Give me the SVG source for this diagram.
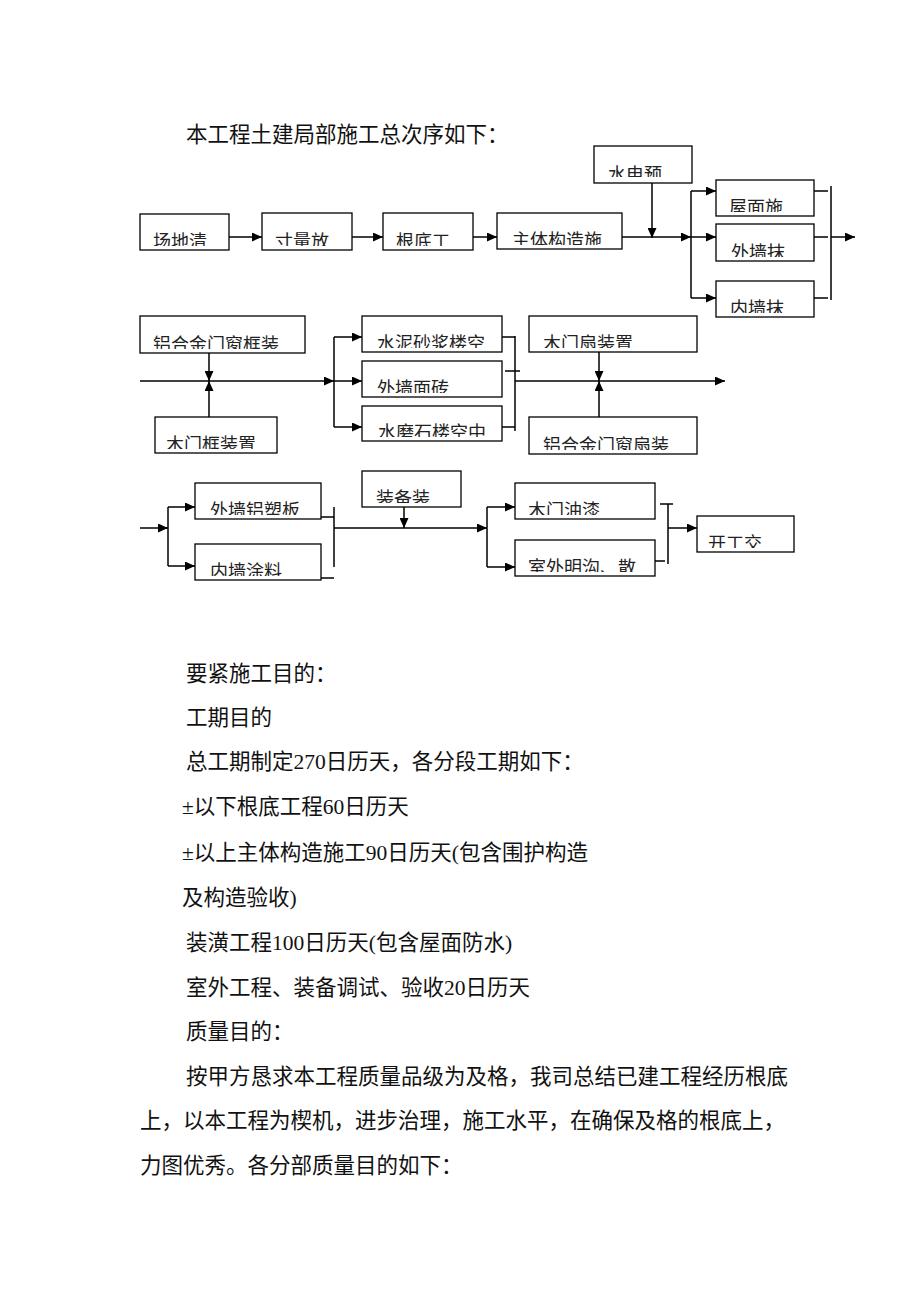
<svg xmlns="http://www.w3.org/2000/svg" width="920" height="1302" viewBox="0 0 920 1302">
<style>
.bx{fill:#fff;stroke:#000;stroke-width:1.3}
.lb{font-family:"Noto Sans CJK SC","Noto Sans",sans-serif;font-size:18px;fill:#222}
.ln{fill:none;stroke:#000;stroke-width:1.5}
.ar{fill:none;stroke:#000;stroke-width:1.5;marker-end:url(#ah)}
.tx{font-family:"Liberation Serif","Noto Sans CJK SC",serif;font-size:21.5px;fill:#111}
</style>
<defs>
<marker id="ah" markerWidth="10" markerHeight="9" refX="10" refY="4.5" orient="auto" markerUnits="userSpaceOnUse"><path d="M0,0 L10,4.5 L0,9 z" fill="#000"/></marker>
<clipPath id="c1"><rect x="140" y="214" width="89" height="32"/></clipPath>
<clipPath id="c2"><rect x="262" y="213" width="90" height="33"/></clipPath>
<clipPath id="c3"><rect x="383" y="213" width="90" height="33"/></clipPath>
<clipPath id="c4"><rect x="497" y="213" width="125" height="32"/></clipPath>
<clipPath id="c5"><rect x="594" y="146" width="98" height="31"/></clipPath>
<clipPath id="c6"><rect x="716" y="180" width="98" height="32"/></clipPath>
<clipPath id="c7"><rect x="716" y="224" width="98" height="33"/></clipPath>
<clipPath id="c8"><rect x="716" y="281" width="98" height="32"/></clipPath>
<clipPath id="c9"><rect x="140" y="316" width="165" height="33"/></clipPath>
<clipPath id="c10"><rect x="155" y="417" width="122" height="32"/></clipPath>
<clipPath id="c11"><rect x="362" y="316" width="140" height="32"/></clipPath>
<clipPath id="c12"><rect x="362" y="361" width="140" height="32"/></clipPath>
<clipPath id="c13"><rect x="362" y="406" width="140" height="31"/></clipPath>
<clipPath id="c14"><rect x="529" y="316" width="168" height="32"/></clipPath>
<clipPath id="c15"><rect x="529" y="417" width="168" height="33"/></clipPath>
<clipPath id="c16"><rect x="195" y="483" width="126" height="32"/></clipPath>
<clipPath id="c17"><rect x="195" y="544" width="126" height="32"/></clipPath>
<clipPath id="c18"><rect x="362" y="471" width="99" height="32"/></clipPath>
<clipPath id="c19"><rect x="515" y="483" width="140" height="32"/></clipPath>
<clipPath id="c20"><rect x="515" y="540" width="140" height="32"/></clipPath>
<clipPath id="c21"><rect x="697" y="516" width="97" height="32"/></clipPath>
</defs>
<rect width="920" height="1302" fill="#fff"/>

<text class="tx" x="186" y="142">本工程土建局部施工总次序如下：</text>

<g id="connectors">
<path class="ar" d="M229,237 H262"/>
<path class="ar" d="M352,237 H383"/>
<path class="ar" d="M473,237 H497"/>
<path class="ar" d="M622,237 H691"/>
<path class="ar" d="M652,183 V238"/>
<path class="ln" d="M691,191 V298"/>
<path class="ar" d="M691,191 H716"/>
<path class="ar" d="M691,237 H716"/>
<path class="ar" d="M691,298 H716"/>
<path class="ln" d="M814,191 H828 M814,237 H828 M814,298 H828"/>
<path class="ln" d="M831,186 V300"/>
<path class="ar" d="M831,237 H855"/>
<path class="ar" d="M140,381 H334"/>
<path class="ar" d="M209,353 V381"/>
<path class="ar" d="M209,417 V381"/>
<path class="ln" d="M334,337 V427"/>
<path class="ar" d="M334,337 H362"/>
<path class="ar" d="M334,381 H362"/>
<path class="ar" d="M334,427 H362"/>
<path class="ln" d="M502,337 H515 M505,371 H520 M502,427 H515"/>
<path class="ln" d="M515,336 V431"/>
<path class="ar" d="M515,381 H725"/>
<path class="ar" d="M599,352 V381"/>
<path class="ar" d="M599,417 V381"/>
<path class="ar" d="M140,528 H168"/>
<path class="ln" d="M168,507 V566"/>
<path class="ar" d="M168,507 H195"/>
<path class="ar" d="M168,566 H195"/>
<path class="ln" d="M321,517 H334 M321,578 H334"/>
<path class="ln" d="M334,507 V567"/>
<path class="ar" d="M334,528 H487"/>
<path class="ar" d="M404,507 V528"/>
<path class="ln" d="M487,507 V567"/>
<path class="ar" d="M487,507 H515"/>
<path class="ar" d="M487,567 H515"/>
<path class="ln" d="M660,504 H673 M668,504 V564 M652,561 H665"/>
<path class="ar" d="M668,528 H697"/>
</g>

<g id="n1"><rect class="bx" x="140" y="214" width="89" height="36"/><text class="lb" clip-path="url(#c1)" x="153" y="247.5">场地清</text></g>
<g id="n2"><rect class="bx" x="262" y="213" width="90" height="37"/><text class="lb" clip-path="url(#c2)" x="275" y="247.5">寸量放</text></g>
<g id="n3"><rect class="bx" x="383" y="213" width="90" height="37"/><text class="lb" clip-path="url(#c3)" x="396" y="247.5">根底工</text></g>
<g id="n4"><rect class="bx" x="497" y="213" width="125" height="36"/><text class="lb" clip-path="url(#c4)" x="512" y="247">主体构造施</text></g>
<g id="n5"><rect class="bx" x="594" y="146" width="98" height="37"/><text class="lb" clip-path="url(#c5)" x="608" y="181">水电预</text></g>
<g id="n6"><rect class="bx" x="716" y="180" width="98" height="36"/><text class="lb" clip-path="url(#c6)" x="729" y="213.5">屋面施</text></g>
<g id="n7"><rect class="bx" x="716" y="224" width="98" height="37"/><text class="lb" clip-path="url(#c7)" x="731" y="258.5">外墙抹</text></g>
<g id="n8"><rect class="bx" x="716" y="281" width="98" height="36"/><text class="lb" clip-path="url(#c8)" x="730" y="314.5">内墙抹</text></g>
<g id="n9"><rect class="bx" x="140" y="316" width="165" height="37"/><text class="lb" clip-path="url(#c9)" x="153" y="350.5">铝合金门窗框装</text></g>
<g id="n10"><rect class="bx" x="155" y="417" width="122" height="36"/><text class="lb" clip-path="url(#c10)" x="166" y="450.5">木门框装置</text></g>
<g id="n11"><rect class="bx" x="362" y="316" width="140" height="36"/><text class="lb" clip-path="url(#c11)" x="377" y="349.5">水泥砂浆楼空</text></g>
<g id="n12"><rect class="bx" x="362" y="361" width="140" height="36"/><text class="lb" clip-path="url(#c12)" x="377" y="394.5">外墙面砖</text></g>
<g id="n13"><rect class="bx" x="362" y="406" width="140" height="35"/><text class="lb" clip-path="url(#c13)" x="378" y="438.5">水磨石楼空中</text></g>
<g id="n14"><rect class="bx" x="529" y="316" width="168" height="36"/><text class="lb" clip-path="url(#c14)" x="543" y="349.5">木门扇装置</text></g>
<g id="n15"><rect class="bx" x="529" y="417" width="168" height="37"/><text class="lb" clip-path="url(#c15)" x="543" y="451.5">铝合金门窗扇装</text></g>
<g id="n16"><rect class="bx" x="195" y="483" width="126" height="36"/><text class="lb" clip-path="url(#c16)" x="210" y="516.5">外墙铝塑板</text></g>
<g id="n17"><rect class="bx" x="195" y="544" width="126" height="36"/><text class="lb" clip-path="url(#c17)" x="210" y="577.5">内墙涂料</text></g>
<g id="n18"><rect class="bx" x="362" y="471" width="99" height="36"/><text class="lb" clip-path="url(#c18)" x="376" y="504.5">装备装</text></g>
<g id="n19"><rect class="bx" x="515" y="483" width="140" height="36"/><text class="lb" clip-path="url(#c19)" x="528" y="516.5">木门油漆</text></g>
<g id="n20"><rect class="bx" x="515" y="540" width="140" height="36"/><text class="lb" clip-path="url(#c20)" x="528" y="573.5">室外明沟、散</text></g>
<g id="n21"><rect class="bx" x="697" y="516" width="97" height="36"/><text class="lb" clip-path="url(#c21)" x="708" y="549.5">开工交</text></g>

<g id="body">
<text class="tx" x="186" y="681">要紧施工目的：</text>
<text class="tx" x="186" y="725">工期目的</text>
<text class="tx" x="186" y="769">总工期制定270日历天，各分段工期如下：</text>
<text class="tx" x="182" y="814">±以下根底工程60日历天</text>
<text class="tx" x="182" y="860">±以上主体构造施工90日历天(包含围护构造</text>
<text class="tx" x="182" y="905">及构造验收)</text>
<text class="tx" x="186" y="950">装潢工程100日历天(包含屋面防水)</text>
<text class="tx" x="186" y="995">室外工程、装备调试、验收20日历天</text>
<text class="tx" x="186" y="1039">质量目的：</text>
<text class="tx" x="186" y="1084">按甲方恳求本工程质量品级为及格，我司总结已建工程经历根底</text>
<text class="tx" x="140" y="1128">上，以本工程为楔机，进步治理，施工水平，在确保及格的根底上，</text>
<text class="tx" x="140" y="1173">力图优秀。各分部质量目的如下：</text>
</g>
</svg>
